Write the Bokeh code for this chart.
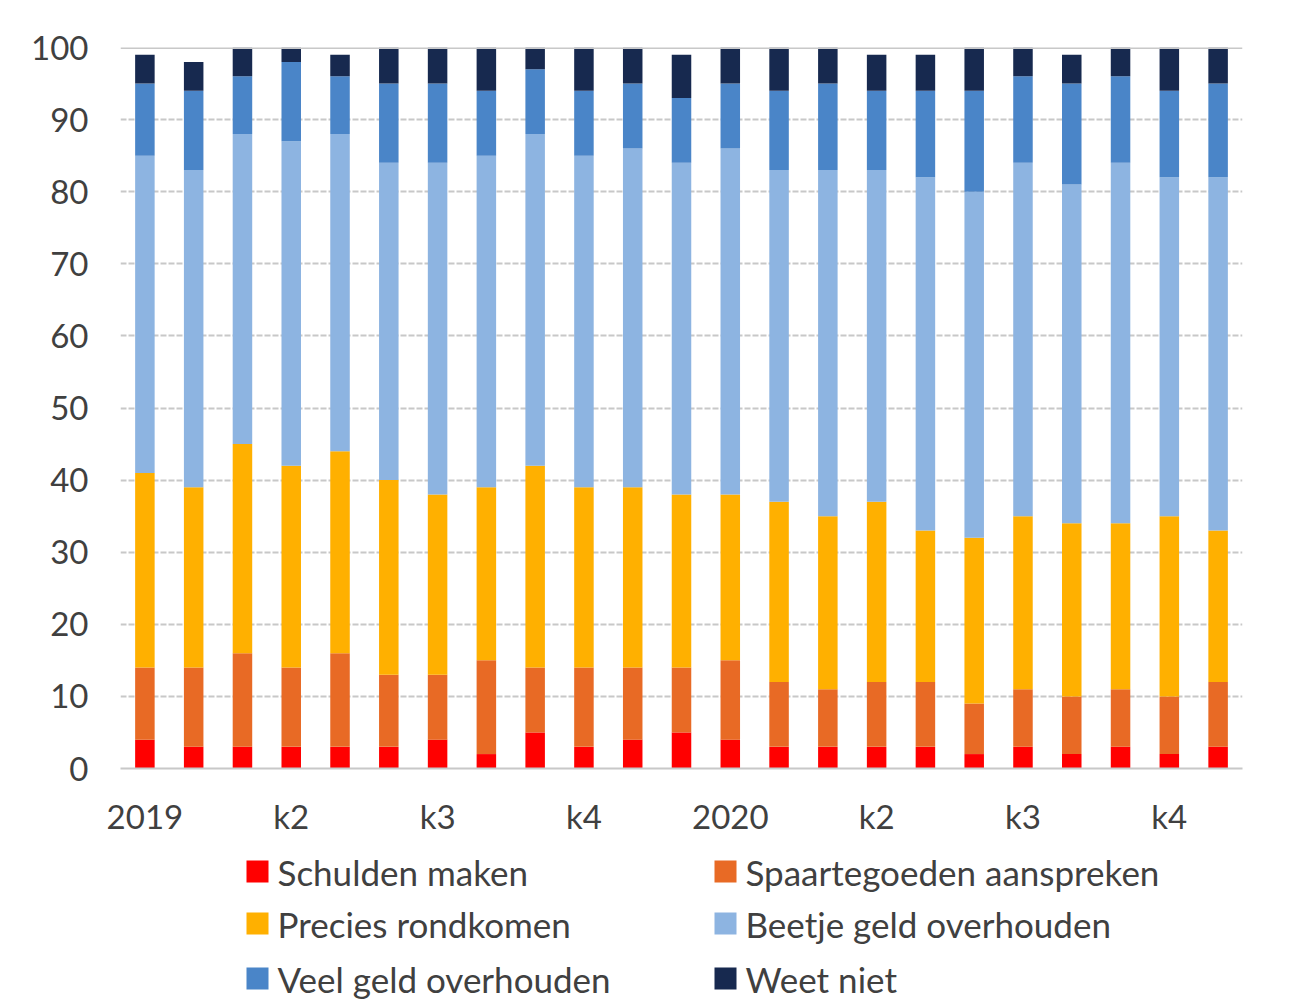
from bokeh.plotting import figure
from bokeh.models import ColumnDataSource, Span, FixedTicker, Range1d
from bokeh.layouts import column
from bokeh.core.properties import value
from bokeh.embed import file_html
from bokeh.resources import INLINE

months = list(range(1, 24))
tick_pos = [1, 4, 7, 10, 13, 16, 19, 22]
tick_labels = ["2019", "k2", "k3", "k4", "2020", "k2", "k3", "k4"]

schulden = [4, 3, 3, 3, 3, 3, 4, 2, 5, 3, 4, 5, 4, 3, 3, 3, 3, 2, 3, 2, 3, 2, 3]
spaar = [10, 11, 13, 11, 13, 10, 9, 13, 9, 11, 10, 9, 11, 9, 8, 9, 9, 7, 8, 8, 8, 8, 9]
precies = [27, 25, 29, 28, 28, 27, 25, 24, 28, 25, 25, 24, 23, 25, 24, 25, 21, 23, 24, 24, 23, 25, 21]
beetje = [44, 44, 43, 45, 44, 44, 46, 46, 46, 46, 47, 46, 48, 46, 48, 46, 49, 48, 49, 47, 50, 47, 49]
veel = [10, 11, 8, 11, 8, 11, 11, 9, 9, 9, 9, 9, 9, 11, 12, 11, 12, 14, 12, 14, 12, 12, 13]
weet = [4, 4, 4, 2, 3, 5, 5, 6, 3, 6, 5, 6, 5, 6, 5, 5, 5, 6, 4, 4, 4, 6, 5]

series = ["Schulden maken", "Spaartegoeden aanspreken", "Precies rondkomen",
          "Beetje geld overhouden", "Veel geld overhouden", "Weet niet"]
colors = ["#FF0000", "#E86A25", "#FFB000", "#8DB4E1", "#4A85C8", "#17294F"]

src = ColumnDataSource(dict(x=months, s0=schulden, s1=spaar, s2=precies,
                            s3=beetje, s4=veel, s5=weet))
keys = ["s0", "s1", "s2", "s3", "s4", "s5"]

FONT = "Lato"
TXT = "#404040"
W = 1280
p = figure(width=W, height=850, output_backend="svg", toolbar_location=None,
           x_range=Range1d(0.5, 23.5), y_range=Range1d(0, 100),
           min_border_left=120, min_border_right=38, min_border_top=47,
           min_border_bottom=82)
p.outline_line_color = None
p.vbar_stack(keys, x="x", width=0.40, color=colors, source=src, line_color=None)

p.xgrid.grid_line_color = None
p.ygrid.grid_line_color = "#C8C8C8"
p.ygrid.grid_line_width = 2
p.ygrid.grid_line_dash = "6 2"
p.yaxis.ticker = FixedTicker(ticks=[0, 10, 20, 30, 40, 50, 60, 70, 80, 90, 100])
p.xaxis.ticker = FixedTicker(ticks=tick_pos)
p.xaxis.major_label_overrides = {t: l for t, l in zip(tick_pos, tick_labels)}

for ax in (p.xaxis, p.yaxis):
    ax.major_tick_line_color = None
    ax.minor_tick_line_color = None
    ax.major_label_text_font = FONT
    ax.major_label_text_font_size = "33px"
    ax.major_label_text_color = TXT
p.yaxis.axis_line_color = None
p.xaxis.axis_line_color = "#C8C8C8"
p.xaxis.axis_line_width = 2
p.xaxis.major_label_standoff = 21
p.yaxis.major_label_standoff = 26

p.add_layout(Span(location=100, dimension="width", line_color="#C8C8C8", line_width=3))

# legend as a separate strip below the chart (pixel coordinates; frame aligned with chart)
LH = 150
leg = figure(width=W, height=LH, output_backend="svg", toolbar_location=None,
             x_range=Range1d(120, 1242), y_range=Range1d(0, LH),
             min_border_left=120, min_border_right=38, min_border_top=0,
             min_border_bottom=0, outline_line_color=None)
leg.axis.visible = False
leg.grid.visible = False
col_x = [257, 725]
row_y = [129, 77, 22]
lx = [col_x[i % 2] for i in range(6)]
ly = [row_y[i // 2] for i in range(6)]
lsrc = ColumnDataSource(dict(x=lx, y=ly, tx=[v + 20 for v in lx], label=series, color=colors))
leg.rect(x="x", y="y", width=22, height=22, fill_color="color", line_color=None, source=lsrc)
leg.text(x="tx", y="y", text="label", source=lsrc, text_font=value(FONT),
         text_font_size="35px", text_color=TXT, text_baseline="middle", text_align="left")

open("out.html", "w").write(file_html(column(p, leg, spacing=0), INLINE))
